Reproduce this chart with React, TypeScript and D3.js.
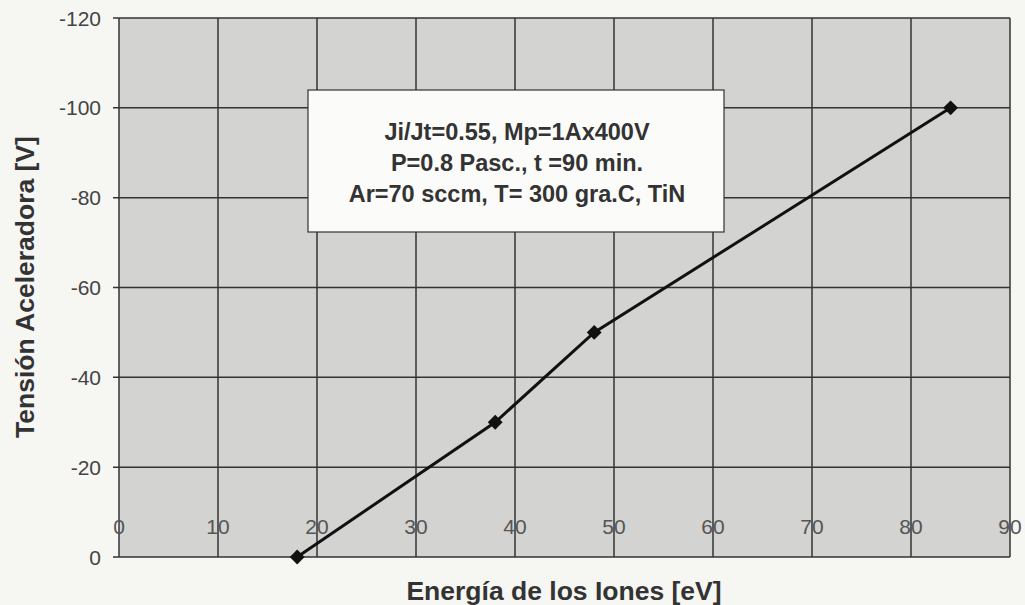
import React, { useEffect, useRef } from 'react';
import * as d3 from 'd3';

// values
const energia = [18, 38, 48, 84];
const tension = [0, -30, -50, -100];
const xTicks = [0, 10, 20, 30, 40, 50, 60, 70, 80, 90];
const yTicks = [-120, -100, -80, -60, -40, -20, 0];
const notes = ['Ji/Jt=0.55, Mp=1Ax400V', 'P=0.8 Pasc., t =90 min.', 'Ar=70 sccm, T= 300 gra.C, TiN'];

export default function App() {
  const ref = useRef<SVGSVGElement | null>(null);

  useEffect(() => {
    const width = 1025;
    const height = 605;
    const margin = { top: 18, right: 15, bottom: 48, left: 119 };
    const svg = d3.select(ref.current);
    svg.selectAll('*').remove();

    const x = d3.scaleLinear().domain([0, 90]).range([margin.left, width - margin.right]);
    const y = d3.scaleLinear().domain([-120, 0]).range([margin.top, height - margin.bottom]);
    const font = 'Arial, "Liberation Sans", sans-serif';

    svg.append('rect').attr('width', width).attr('height', height).attr('fill', '#f6f6f3');
    svg.append('rect')
      .attr('x', x(0)).attr('y', y(-120))
      .attr('width', x(90) - x(0)).attr('height', y(0) - y(-120))
      .attr('fill', '#d3d3d1');

    // grid
    svg.append('g').selectAll('line').data(xTicks).enter().append('line')
      .attr('x1', d => x(d)).attr('x2', d => x(d))
      .attr('y1', y(-120)).attr('y2', y(0))
      .attr('stroke', '#333').attr('stroke-width', 1.5);
    svg.append('g').selectAll('line').data(yTicks).enter().append('line')
      .attr('x1', x(0) - 6).attr('x2', x(90))
      .attr('y1', d => y(d)).attr('y2', d => y(d))
      .attr('stroke', '#333').attr('stroke-width', 1.5);

    // y tick labels
    svg.append('g').selectAll('text').data(yTicks).enter().append('text')
      .attr('x', x(0) - 18).attr('y', d => y(d))
      .attr('dy', '0.36em').attr('text-anchor', 'end')
      .attr('font-family', font).attr('font-size', 21).attr('fill', '#444')
      .text(d => d);

    // x tick labels sit inside the plot
    svg.append('g').selectAll('text').data(xTicks).enter().append('text')
      .attr('x', d => x(d)).attr('y', y(-6.8))
      .attr('dy', '0.36em').attr('text-anchor', 'middle')
      .attr('font-family', font).attr('font-size', 21).attr('fill', '#555')
      .text(d => d);

    // note box
    const box = svg.append('g');
    box.append('rect')
      .attr('x', 308).attr('y', 90).attr('width', 416).attr('height', 142)
      .attr('fill', '#fbfbfa').attr('stroke', '#333').attr('stroke-width', 1.2);
    box.selectAll('text').data(notes).enter().append('text')
      .attr('x', 517).attr('y', (d, i) => 140 + i * 31)
      .attr('text-anchor', 'middle')
      .attr('font-family', font).attr('font-weight', 'bold').attr('font-size', 23.5).attr('fill', '#333')
      .text(d => d);

    // series
    const pts = energia.map((e, i) => [e, tension[i]] as [number, number]);
    svg.append('path')
      .attr('d', d3.line<[number, number]>().x(d => x(d[0])).y(d => y(d[1]))(pts))
      .attr('fill', 'none').attr('stroke', '#111').attr('stroke-width', 3);
    svg.append('g').selectAll('path').data(pts).enter().append('path')
      .attr('transform', d => `translate(${x(d[0])},${y(d[1])})`)
      .attr('d', d3.symbol(d3.symbolDiamond2, 140)())
      .attr('fill', '#111');

    // axis titles
    svg.append('text')
      .attr('x', 564).attr('y', 590)
      .attr('text-anchor', 'middle').attr('dy', '0.36em')
      .attr('font-family', font).attr('font-weight', 'bold').attr('font-size', 26.5).attr('fill', '#333')
      .text('Energía de los Iones [eV]');
    svg.append('text')
      .attr('transform', `translate(24,${287}) rotate(-90)`)
      .attr('text-anchor', 'middle').attr('dy', '0.36em')
      .attr('font-family', font).attr('font-weight', 'bold').attr('font-size', 26.5).attr('fill', '#333')
      .text('Tensión Aceleradora [V]');
  }, []);

  return (
    <svg ref={ref} width={1025} height={605} style={{ position: 'absolute', left: 0, top: 0 }} />
  );
}
